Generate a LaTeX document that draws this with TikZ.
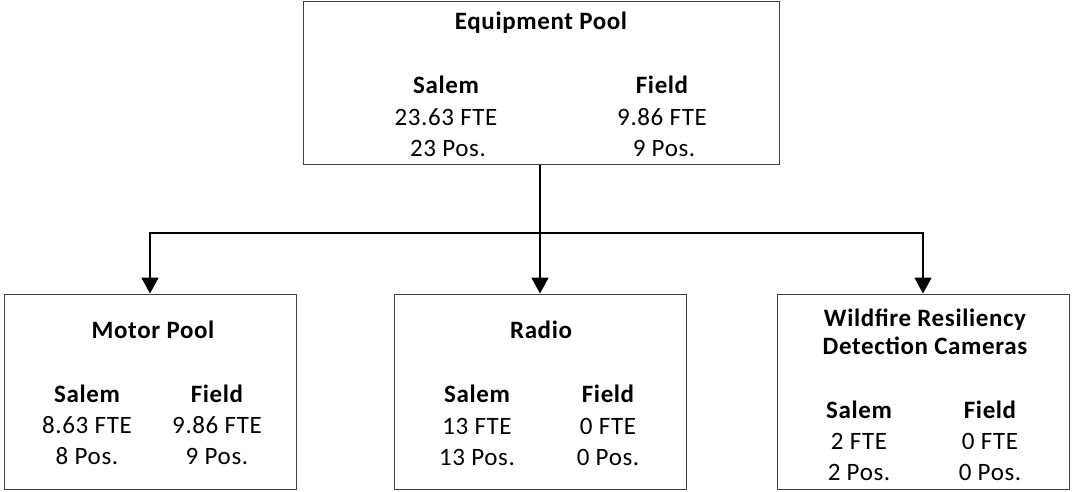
\documentclass[tikz,border=0pt]{standalone}
\usepackage{fontspec}
\setmainfont{Carlito}[LetterSpace=2.5]
\usetikzlibrary{arrows.meta}
\begin{document}
\begin{tikzpicture}[x=1pt,y=-1pt,
  box/.style={draw={rgb,255:red,64;green,64;blue,64},line width=1pt,inner sep=0pt,fill=none},
  txt/.style={inner sep=0pt,anchor=base,font=\fontsize{25}{30}\selectfont},
  ttl/.style={txt,font=\fontsize{25}{30}\selectfont\bfseries},
  conn/.style={line width=1.8pt,black},
  arr/.style={conn,-{Triangle[length=16pt,width=17pt]}}]
\useasboundingbox (0,0) rectangle (1073,492);
% boxes
\node[box,minimum width=476pt,minimum height=162pt] (top) at (541,83) {};
\node[box,minimum width=292pt,minimum height=195pt] (motor) at (150,391.5) {};
\node[box,minimum width=292pt,minimum height=195pt] (radio) at (540,391.5) {};
\node[box,minimum width=292pt,minimum height=195pt] (wild) at (923,391.5) {};
% top texts
\node[ttl] (t1) at (541,30) {Equipment Pool};
\node[ttl] (t2) at (446,94) {Salem};
\node[ttl] (t3) at (662,94) {Field};
\node[txt] (t4) at (446,126) {23.63 FTE};
\node[txt] (t5) at (662,126) {9.86 FTE};
\node[txt] (t6) at (448,157) {23 Pos.};
\node[txt] (t7) at (664,157) {9 Pos.};
% motor pool
\node[ttl] (m1) at (153,338) {Motor Pool};
\node[ttl] (m2) at (87,402) {Salem};
\node[ttl] (m3) at (217,402) {Field};
\node[txt] (m4) at (87,433) {8.63 FTE};
\node[txt] (m5) at (217,433) {9.86 FTE};
\node[txt] (m6) at (87,464) {8 Pos.};
\node[txt] (m7) at (217,464) {9 Pos.};
% radio
\node[ttl] (r1) at (541,338) {Radio};
\node[ttl] (r2) at (477,402) {Salem};
\node[ttl] (r3) at (608,402) {Field};
\node[txt] (r4) at (477,434) {13 FTE};
\node[txt] (r5) at (608,434) {0 FTE};
\node[txt] (r6) at (477,465) {13 Pos.};
\node[txt] (r7) at (608,465) {0 Pos.};
% wildfire
\node[ttl] (w1) at (925,326) {Wildfire Resiliency};
\node[ttl] (w2) at (925,354) {Detection Cameras};
\node[ttl] (w3) at (859,418) {Salem};
\node[ttl] (w4) at (990,418) {Field};
\node[txt] (w5) at (859,449) {2 FTE};
\node[txt] (w6) at (990,449) {0 FTE};
\node[txt] (w7) at (859,480) {2 Pos.};
\node[txt] (w8) at (990,480) {0 Pos.};
% connectors
\coordinate (j) at (540,233);
\draw[conn] (top.south -| j) -- (j);
\draw[arr] (j) -| (motor.north);
\draw[arr] (j) -- (radio.north);
\draw[arr] (j) -| (wild.north);
\end{tikzpicture}
\end{document}
